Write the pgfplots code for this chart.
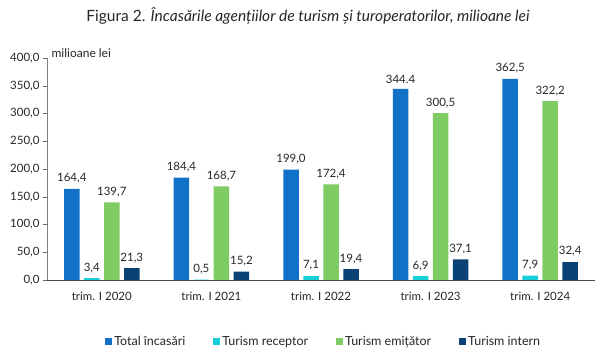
\documentclass[border=0pt]{standalone}
\usepackage{pgfplots}
\pgfplotsset{compat=1.18}
\usepackage{pgfplotstable}
\usepackage{fontspec}
\setmainfont{Lato}
\definecolor{cTot}{HTML}{1170C8}
\definecolor{cRec}{HTML}{17CFD9}
\definecolor{cEmi}{HTML}{7FCB64}
\definecolor{cInt}{HTML}{0B4276}
\pgfplotstableread{
x y lab
0 164.4 164,4
1 184.4 184,4
2 199.0 199,0
3 344.4 344.4
4 362.5 362,5
}\tot
\pgfplotstableread{
x y lab
0 3.4 3,4
1 0.5 0,5
2 7.1 7,1
3 6.9 6,9
4 7.9 7,9
}\rec
\pgfplotstableread{
x y lab
0 139.7 139,7
1 168.7 168,7
2 172.4 172,4
3 300.5 300,5
4 322.2 322,2
}\emi
\pgfplotstableread{
x y lab
0 21.3 21,3
1 15.2 15,2
2 19.4 19,4
3 37.1 37,1
4 32.4 32,4
}\inte
\begin{document}
\begin{tikzpicture}
\useasboundingbox (-47pt,-72pt) rectangle (563pt,280pt);
\node[font=\fontsize{15.5}{17}\selectfont, text=black!85] at (261pt,264pt) {Figura 2. \textit{Încasările agențiilor de turism și turoperatorilor, milioane lei}};
\begin{axis}[
  width=548pt, height=222pt, scale only axis,
  ybar=4.5pt, bar width=15.5pt,
  xmin=-0.5, xmax=4.5, ymin=0, ymax=400,
  ytick={0,50,...,400},
  xtick={0,...,4},
  xticklabels={trim. I 2020,trim. I 2021,trim. I 2022,trim. I 2023,trim. I 2024},
  extra x ticks={-0.5,0.5,1.5,2.5,3.5,4.5},
  extra x tick labels={},
  extra x tick style={major tick length=5pt, tick style={black!70}},
  x tick style={draw=none},
  tick align=outside,
  major tick length=4pt,
  axis x line*=bottom, axis y line*=left,
  x axis line style={black!70, -},
  y axis line style={black!50, -},
  y tick style={black!60},
  yticklabel style={/pgf/number format/.cd, fixed, fixed zerofill, precision=1, use comma, 1000 sep={}},
  /pgf/number format/assume math mode=true,
  ticklabel style={font=\fontsize{11.5}{13}\selectfont, text=black!85},
  xticklabel style={yshift=-5pt},
  nodes near coords,
  point meta=explicit symbolic,
  every node near coord/.append style={font=\fontsize{11.5}{13}\selectfont, text=black!85, yshift=2pt},
  legend style={at={(0.505,-0.235)}, anchor=north, draw=none, legend columns=4,
    font=\fontsize{12.5}{14}\selectfont, text=black!85, /tikz/every even column/.append style={column sep=26pt}},
  legend image code/.code={\fill[#1] (0pt,-3.5pt) rectangle (7pt,3.5pt);},
  clip=false,
]
\addplot[fill=cTot, draw=none] table[x=x,y=y,meta=lab] {\tot};
\addplot[fill=cRec, draw=none] table[x=x,y=y,meta=lab] {\rec};
\addplot[fill=cEmi, draw=none] table[x=x,y=y,meta=lab] {\emi};
\addplot[fill=cInt, draw=none] table[x=x,y=y,meta=lab] {\inte};
\legend{Total încasări, Turism receptor, Turism emițător, Turism intern}
\node[anchor=south west, font=\fontsize{12}{14}\selectfont, text=black!85, inner sep=0pt] at (rel axis cs:0.008,1.0) {milioane lei};
\end{axis}
\end{tikzpicture}
\end{document}
